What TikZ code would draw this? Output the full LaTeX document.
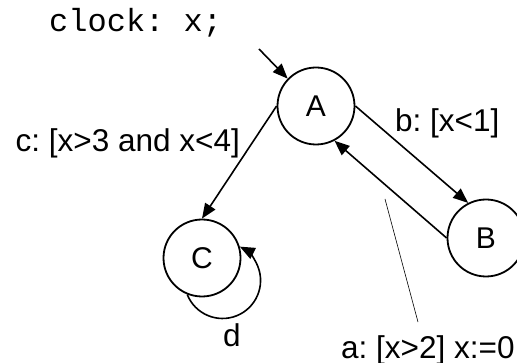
\documentclass[tikz,border=0pt]{standalone}
\usepackage{fontspec}
\setmainfont{Liberation Sans}
\setmonofont{Liberation Mono}
\usetikzlibrary{arrows.meta}
\frenchspacing
\begin{document}
\begin{tikzpicture}[x=1pt,y=1pt,
  state/.style={circle,draw,line width=1.8pt,minimum size=77pt,inner sep=0pt,
    font=\fontsize{30}{36}\selectfont},
  lbl/.style={inner sep=0pt,font=\frenchspacing\fontsize{31.5}{38}\selectfont},
  edge/.style={line width=1.6pt,-{Triangle[length=15pt,width=12pt]}},
  note/.style={line width=0.6pt}]
\useasboundingbox (0,0) rectangle (517,-363);
\node[state] (A) at (316,-106) {A};
\node[state] (B) at (486,-238) {B};
\node[state] (C) at (202,-258) {C};
\coordinate (init) at (259,-49);
\coordinate (n1) at (385,-199);
\coordinate (n2) at (418,-322);
\node[inner sep=0pt,anchor=base west,font=\frenchspacing\ttfamily\fontsize{32}{38}\selectfont] (decl) at (49,-32) {clock: x;};
\node[lbl,anchor=base east] (lc) at (240,-152) {c: [x>3 and x<4]};
\node[lbl,anchor=base west] (lb) at (395,-132) {b: [x<1]};
\node[lbl,anchor=base west] (la) at (341,-359) {a: [x>2] x:=0};
\node[lbl,anchor=base] (ld) at (232,-347) {d};
\draw[edge] (init) -- (A.136);
\draw[edge] (A.180) -- (C.90);
\draw[edge] (A.0) -- (B.117);
\draw[edge] (B.180) -- (A.-62);
\draw[edge] (C.-112) arc[start angle=201.7,end angle=423,radius=38];
\draw[note] (n1) -- (n2);
\end{tikzpicture}
\end{document}
